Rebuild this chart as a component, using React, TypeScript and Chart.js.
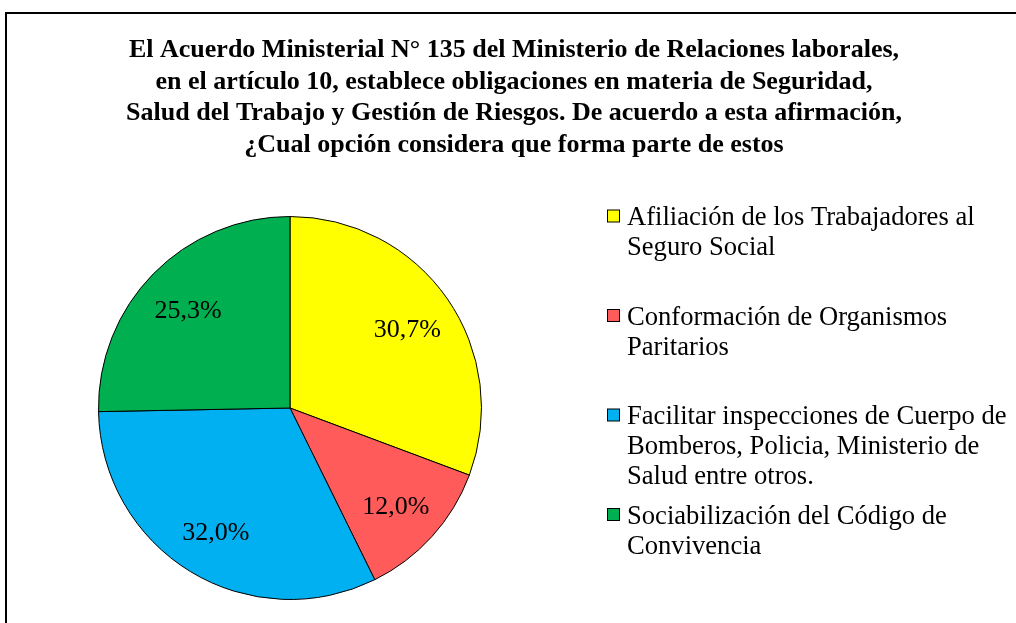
import React, { useEffect, useRef } from "react";
import { Chart, registerables } from "chart.js";

Chart.register(...registerables);

const TITLE_LINES = [
  "El Acuerdo Ministerial N° 135 del Ministerio de Relaciones laborales,",
  "en el artículo 10, establece obligaciones en materia de Seguridad,",
  "Salud del Trabajo y Gestión de Riesgos. De acuerdo a esta afirmación,",
  "¿Cual opción considera que forma parte de estos",
];

const CATEGORY_LINES = [
  ["Afiliación de los Trabajadores al", "Seguro Social"],
  ["Conformación de Organismos", "Paritarios"],
  ["Facilitar inspecciones de Cuerpo de", "Bomberos, Policia, Ministerio de", "Salud entre otros."],
  ["Sociabilización del Código de", "Convivencia"],
];
const CATEGORIES = CATEGORY_LINES.map((l) => l.join(" "));
const VALUES = [30.7, 12.0, 32.0, 25.3];
const COLORS = ["#FFFF00", "#FF5B5B", "#00B0F0", "#00B050"];

const SERIF = '"Liberation Serif", "Times New Roman", serif';

const fmt = (v: number) => v.toFixed(1).replace(".", ",") + "%";

const customDraw = {
  id: "customDraw",
  afterDraw(chart: any) {
    const ctx = chart.ctx;
    ctx.save();
    // Title
    ctx.fillStyle = "#000";
    ctx.font = `bold 26px ${SERIF}`;
    ctx.textAlign = "center";
    ctx.textBaseline = "alphabetic";
    TITLE_LINES.forEach((line, i) => ctx.fillText(line, 514, 57 + i * 31.6));

    // Slice labels
    const meta = chart.getDatasetMeta(0);
    ctx.font = `26px ${SERIF}`;
    ctx.textBaseline = "middle";
    meta.data.forEach((arc: any, i: number) => {
      const p = arc.getProps(["x", "y", "startAngle", "endAngle", "outerRadius"], true);
      const mid = (p.startAngle + p.endAngle) / 2;
      const r = p.outerRadius * 0.745;
      ctx.fillText(fmt(VALUES[i]), p.x + Math.cos(mid) * r, p.y + Math.sin(mid) * r + 3);
    });

    // Legend
    ctx.font = `26.6px ${SERIF}`;
    ctx.textAlign = "left";
    ctx.textBaseline = "alphabetic";
    CATEGORY_LINES.forEach((lines, i) => {
      const base = 225 + i * 99.5;
      ctx.fillStyle = COLORS[i];
      ctx.fillRect(607.5, base - 15, 12, 12);
      ctx.strokeStyle = "#000";
      ctx.lineWidth = 1;
      ctx.strokeRect(607.5, base - 15, 12, 12);
      ctx.fillStyle = "#000";
      lines.forEach((t, j) => ctx.fillText(t, 627, base + j * 30));
    });
    ctx.restore();
  },
};

export default function App() {
  const ref = useRef<HTMLCanvasElement>(null);
  useEffect(() => {
    if (!ref.current) return;
    const chart = new Chart(ref.current, {
      type: "pie",
      data: {
        labels: CATEGORIES,
        datasets: [
          {
            data: VALUES,
            backgroundColor: COLORS,
            borderColor: "#000",
            borderWidth: 1,
          },
        ],
      },
      options: {
        responsive: false,
        animation: false,
        layout: { padding: { left: 98, top: 216, right: 534, bottom: 23 } },
        plugins: {
          legend: { display: false },
          title: { display: false },
          tooltip: { enabled: false },
        },
        events: [],
      },
      plugins: [customDraw],
    });
    return () => chart.destroy();
  }, []);

  return (
    <div style={{ position: "fixed", left: 0, top: 0, width: 1016, height: 623, overflow: "hidden", background: "#fff" }}>
      <div
        style={{
          position: "absolute",
          left: 5,
          top: 12,
          width: 1100,
          height: 700,
          border: "2px solid #000",
          boxSizing: "border-box",
        }}
      />
      <canvas ref={ref} width={1016} height={623} style={{ position: "absolute", left: 0, top: 0 }} />
    </div>
  );
}
